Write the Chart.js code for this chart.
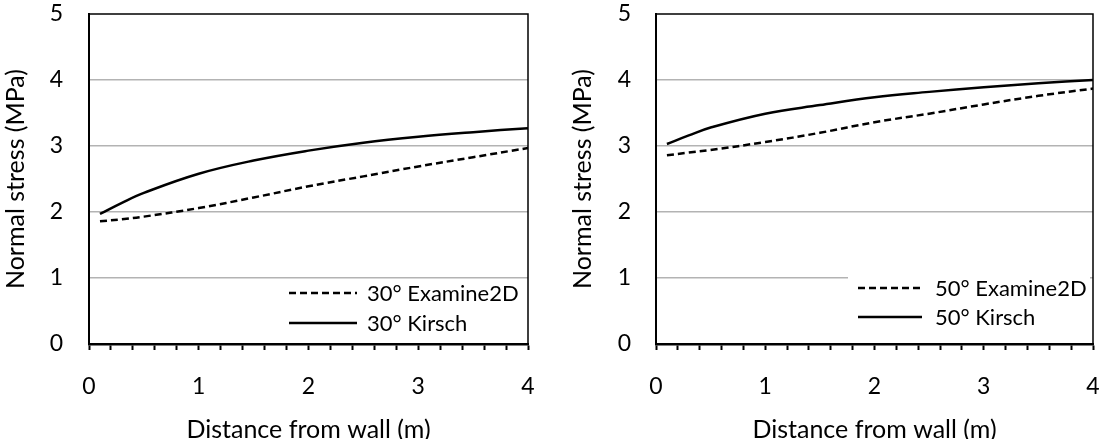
<!DOCTYPE html>
<html>
<head>
<meta charset="utf-8">
<script src="https://cdn.jsdelivr.net/npm/chart.js@4"></script>
<style>
  body { margin: 0; background: #fff; }
  .panel { position: absolute; top: 0; }
</style>
</head>
<body>
<div class="panel" style="left:0"><canvas id="left" width="550" height="439"></canvas></div>
<div class="panel" style="left:550px"><canvas id="right" width="552" height="439"></canvas></div>
<script>
/* global Chart */

// distance from wall (m)
const distance = [0.1, 0.3, 0.5, 1, 1.5, 2, 2.5, 3, 3.5, 4];
// 30 degree case (MPa)
const examine30 = [1.86, 1.89, 1.93, 2.06, 2.22, 2.39, 2.54, 2.69, 2.83, 2.97];
const kirsch30 = [1.97, 2.14, 2.29, 2.58, 2.78, 2.93, 3.05, 3.14, 3.21, 3.27];
// 50 degree case (MPa)
const examine50 = [2.86, 2.90, 2.94, 3.06, 3.20, 3.36, 3.49, 3.63, 3.76, 3.87];
const kirsch50 = [3.03, 3.16, 3.28, 3.49, 3.62, 3.74, 3.82, 3.89, 3.95, 4.00];

const yTicks = [0, 1, 2, 3, 4, 5];

Chart.defaults.font.family = 'Lato';
Chart.defaults.font.size = 23;
Chart.defaults.color = '#000';

function toPoints(xs, ys) {
  return xs.map((x, i) => ({ x: x, y: ys[i] }));
}

// black frame round the plot area (top and right side)
const frame = {
  id: 'frame',
  beforeDatasetsDraw(chart) {
    const { ctx, chartArea } = chart;
    ctx.save();
    ctx.strokeStyle = '#000';
    ctx.lineWidth = 1.5;
    ctx.beginPath();
    ctx.moveTo(chartArea.left, chartArea.top);
    ctx.lineTo(chartArea.right, chartArea.top);
    ctx.lineTo(chartArea.right, chartArea.bottom);
    ctx.stroke();
    ctx.restore();
  }
};

// legend inside the plot, bottom right
const innerLegend = {
  id: 'innerLegend',
  afterDatasetsDraw(chart, args, opts) {
    const { ctx, chartArea } = chart;
    const x0 = chartArea.right - opts.fromRight;
    const y0 = chartArea.bottom - opts.fromBottom;
    const n = chart.data.datasets.length;
    ctx.save();
    ctx.fillStyle = '#fff';
    ctx.fillRect(x0 - 10, y0 - 12, chartArea.right - x0 + 7, opts.rowGap * (n - 1) + 26);
    chart.data.datasets.forEach((ds, i) => {
      const y = y0 + i * opts.rowGap;
      ctx.strokeStyle = ds.borderColor;
      ctx.lineWidth = ds.borderWidth;
      ctx.setLineDash(ds.borderDash || []);
      ctx.beginPath();
      ctx.moveTo(x0, y);
      ctx.lineTo(x0 + opts.sampleLen, y);
      ctx.stroke();
      ctx.setLineDash([]);
      ctx.fillStyle = '#000';
      ctx.font = '22px Lato';
      ctx.textBaseline = 'middle';
      ctx.fillText(ds.label, x0 + opts.sampleLen + opts.gap, y + 1);
    });
    ctx.restore();
  }
};

function makeChart(id, angle, examine, kirsch, cfg) {
  return new Chart(document.getElementById(id), {
    type: 'line',
    data: {
      datasets: [{
        label: angle + '° Examine2D',
        data: toPoints(distance, examine),
        borderColor: '#000',
        borderWidth: 2.5,
        borderDash: [7, 4],
        pointRadius: 0,
        tension: 0.4
      }, {
        label: angle + '° Kirsch',
        data: toPoints(distance, kirsch),
        borderColor: '#000',
        borderWidth: 2.5,
        pointRadius: 0,
        tension: 0.4
      }]
    },
    options: {
      responsive: false,
      animation: false,
      layout: { padding: { top: 14, left: 0, right: cfg.padRight, bottom: 0 } },
      plugins: {
        legend: { display: false },
        tooltip: { enabled: false },
        innerLegend: cfg.legend
      },
      scales: {
        x: {
          type: 'linear',
          min: 0,
          max: 4,
          afterFit: (scale) => { scale.height = 95; },
          ticks: {
            stepSize: 0.2,
            autoSkip: false,
            maxRotation: 0,
            padding: 0,
            font: { size: 23, lineHeight: 3.2 },
            callback: (v) => {
              const r = Math.round(v);
              return Math.abs(v - r) < 1e-6 ? String(r) : '';
            }
          },
          grid: {
            drawOnChartArea: false,
            drawTicks: true,
            tickLength: 6,
            tickColor: '#000',
            tickWidth: 2
          },
          border: { color: '#000', width: 2.5 },
          title: {
            display: true,
            text: 'Distance from wall (m)',
            font: { size: 25, lineHeight: 0.75 },
            padding: { top: 0, bottom: 0 }
          }
        },
        y: {
          min: 0,
          max: 5,
          afterFit: (scale) => { scale.width = cfg.yWidth; },
          afterBuildTicks: (scale) => { scale.ticks = yTicks.map(v => ({ value: v })); },
          ticks: { padding: 0 },
          grid: {
            drawTicks: true,
            tickLength: cfg.yLabelGap,
            tickColor: 'rgba(0,0,0,0)',
            lineWidth: 1.5,
            color: (c) => (c.tick && (c.tick.value === 0 || c.tick.value === 5)) ? 'rgba(0,0,0,0)' : '#b3b3b3'
          },
          border: { color: '#000', width: 2 },
          title: {
            display: true,
            text: 'Normal stress (MPa)',
            font: { size: 25, lineHeight: 1 },
            padding: { top: cfg.titlePad, bottom: 0 }
          }
        }
      }
    },
    plugins: [frame, innerLegend]
  });
}

makeChart('left', 30, examine30, kirsch30, {
  padRight: 22,
  yWidth: 89,
  yLabelGap: 26,
  titlePad: 3,
  legend: { fromRight: 239, fromBottom: 51, rowGap: 30, sampleLen: 68, gap: 10 }
});

makeChart('right', 50, examine50, kirsch50, {
  padRight: 9,
  yWidth: 106,
  yLabelGap: 25,
  titlePad: 20,
  legend: { fromRight: 235, fromBottom: 56, rowGap: 29, sampleLen: 64, gap: 13 }
});
</script>
</body>
</html>
